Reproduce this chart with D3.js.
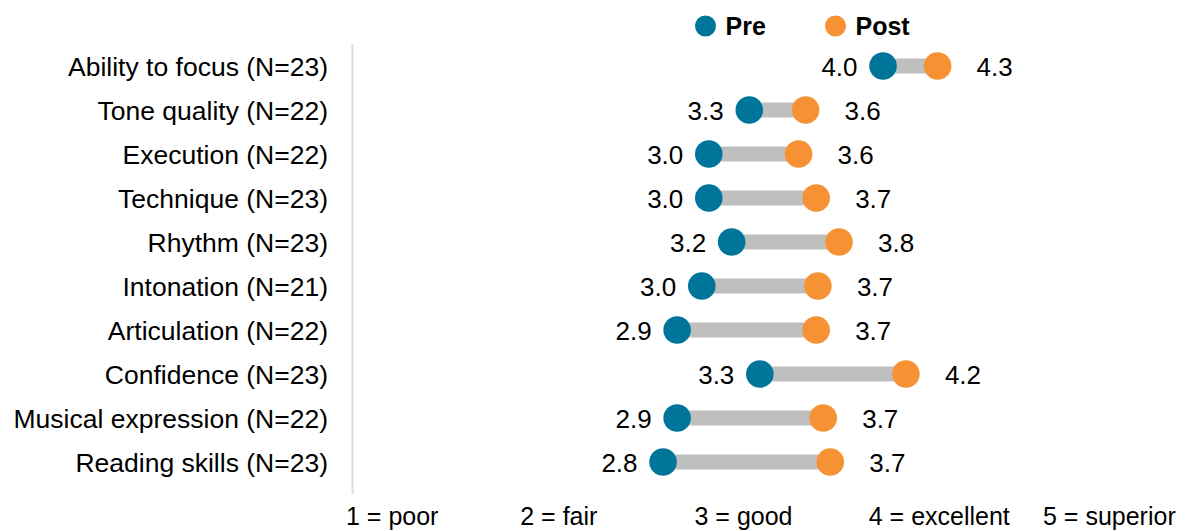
<!DOCTYPE html>
<html>
<head>
    <meta charset="utf-8">
    <title>Pre / Post ratings</title>
    <script src="https://d3js.org/d3.v7.min.js"></script>
    <style>
        body { margin: 0; background: #fff; }
        text { font-family: "Liberation Sans", Arial, sans-serif; fill: #000; }
    </style>
</head>
<body>
    <script>
        var categories = ["Ability to focus (N=23)", "Tone quality (N=22)", "Execution (N=22)",
            "Technique (N=23)", "Rhythm (N=23)", "Intonation (N=21)", "Articulation (N=22)",
            "Confidence (N=23)", "Musical expression (N=22)", "Reading skills (N=23)"];
        var preValues  = [4.04, 3.28, 3.05, 3.05, 3.18, 3.01, 2.87, 3.34, 2.87, 2.79];
        var postValues = [4.35, 3.60, 3.56, 3.66, 3.79, 3.67, 3.66, 4.17, 3.70, 3.74];
        var scaleTicks = [1, 2, 3, 4, 5];
        var scaleLabels = ["poor", "fair", "good", "excellent", "superior"];
        var seriesNames = ["Pre", "Post"];

        var width = 1193;
        var height = 531;
        var preColor = "#00759a";
        var postColor = "#f69134";

        var svg = d3.select("body").append("svg")
            .attr("width", width)
            .attr("height", height);

        var x = d3.scaleLinear().domain([1, 5]).range([348, 1052]);
        var keyX = d3.scaleLinear().domain([1, 5]).range([346, 1043]);
        var y = d3.scaleBand().domain(categories).range([44, 484]);
        var fmt = d3.format(".1f");
        var rows = categories.map(function(c, i) {
            return { name: c, pre: preValues[i], post: postValues[i] };
        });

        // axis line + category labels
        svg.append("line")
            .attr("x1", 352.5).attr("x2", 352.5)
            .attr("y1", y.range()[0]).attr("y2", y.range()[1] + 10)
            .style("stroke", "#dcdcdc").style("stroke-width", 2);

        svg.selectAll("text.cat")
            .data(categories)
            .enter().append("text")
            .attr("class", "cat")
            .attr("x", 328)
            .attr("y", function(d) { return y(d) + y.bandwidth() / 2; })
            .attr("dy", "0.38em")
            .attr("text-anchor", "end")
            .style("font-size", "26.5px")
            .text(function(d) { return d; });

        var g = svg.selectAll("g.row")
            .data(rows)
            .enter().append("g")
            .attr("class", "row")
            .attr("transform", function(d) { return "translate(0," + (y(d.name) + y.bandwidth() / 2) + ")"; });

        g.append("line")
            .attr("x1", function(d) { return x(d.pre); })
            .attr("x2", function(d) { return x(d.post); })
            .style("stroke", "#bfbfbf")
            .style("stroke-width", 15);

        g.append("circle")
            .attr("cx", function(d) { return x(d.pre); })
            .attr("r", 13.8)
            .style("fill", preColor);

        g.append("circle")
            .attr("cx", function(d) { return x(d.post); })
            .attr("r", 13.8)
            .style("fill", postColor);

        g.append("text")
            .attr("x", function(d) { return x(d.pre) - 25.5; })
            .attr("dy", "0.4em")
            .attr("text-anchor", "end")
            .style("font-size", "26px")
            .text(function(d) { return fmt(d.pre); });

        g.append("text")
            .attr("x", function(d) { return x(d.post) + 39; })
            .attr("dy", "0.4em")
            .style("font-size", "26px")
            .text(function(d) { return fmt(d.post); });

        // legend
        var legendX = [705.5, 835.5];
        var lg = svg.selectAll("g.legend")
            .data(seriesNames)
            .enter().append("g")
            .attr("class", "legend")
            .attr("transform", function(d, i) { return "translate(" + legendX[i] + ",26)"; });
        lg.append("circle")
            .attr("r", 10.5)
            .style("fill", function(d, i) { return i === 0 ? preColor : postColor; });
        lg.append("text")
            .attr("x", 20)
            .attr("y", 8.5)
            .style("font-size", "25px")
            .style("font-weight", "bold")
            .text(function(d) { return d; });

        // rating scale key
        svg.selectAll("text.key")
            .data(scaleTicks)
            .enter().append("text")
            .attr("class", "key")
            .attr("x", function(d) { return keyX(d); })
            .attr("y", 525)
            .style("font-size", "25px")
            .text(function(d, i) { return d + " = " + scaleLabels[i]; });
    </script>
</body>
</html>
